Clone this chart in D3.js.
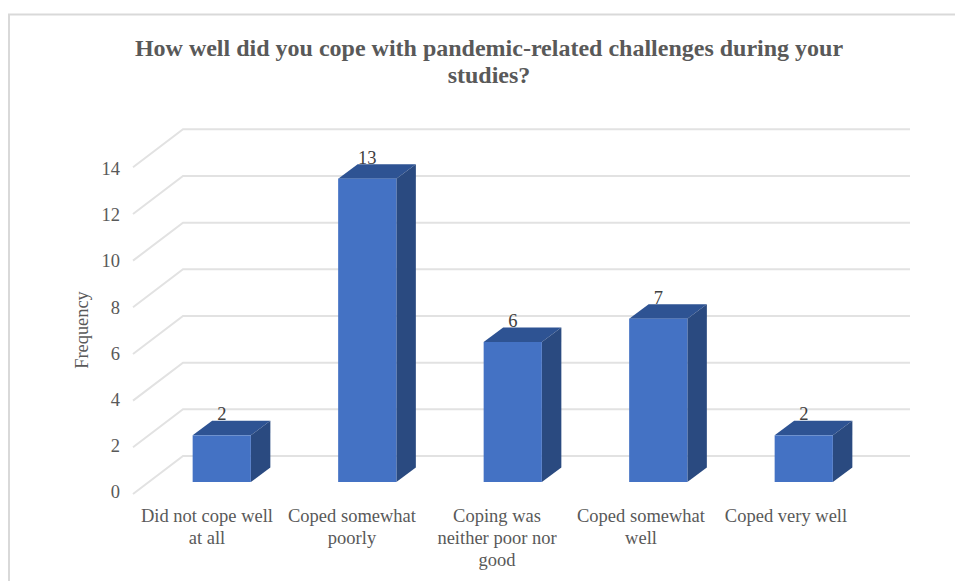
<!DOCTYPE html>
<html><head><meta charset="utf-8">
<script src="https://cdn.jsdelivr.net/npm/d3@7"></script>
<style>html,body{margin:0;padding:0;background:#fff}svg{display:block}text{font-family:"Liberation Serif",serif}</style>
</head><body><svg id="c" width="955" height="581"></svg>
<script>
const categories=[["Did not cope well","at all"],["Coped somewhat","poorly"],["Coping was","neither poor nor","good"],["Coped somewhat","well"],["Coped very well"]];
const values=[2,13,6,7,2];
const yTicks=[0,2,4,6,8,10,12,14];
const titleLines=["How well did you cope with pandemic-related challenges during your","studies?"];
const yTitle="Frequency";

const svg=d3.select("#c");
const y=d3.scaleLinear().domain([0,14]).range([482,155.3]);
const x=d3.scaleBand().domain(d3.range(values.length)).range([149,876.5]).paddingInner(0.6).paddingOuter(0.3);
const dx=19.5,dy=-14.5;
const wallFront=133,wallBack=183,right=910,backShift=-26,frontShift=12;

svg.append("path").attr("d","M9 581V14.5H955").attr("fill","none").attr("stroke","#d9d9d9").attr("stroke-width",2);

const grid=svg.append("g").attr("fill","none").attr("stroke","#e2e2e2").attr("stroke-width",2);
yTicks.forEach(t=>{
  grid.append("path").attr("d",`M${wallFront} ${y(t)+frontShift}L${wallBack} ${y(t)+backShift}H${right}`);
});

svg.append("g").attr("font-size",18.5).attr("fill","#595959").attr("text-anchor","end")
 .selectAll("text").data(yTicks).join("text")
 .attr("x",120).attr("y",t=>y(t)+frontShift+4+t*0.28).text(t=>t);

svg.append("text").attr("transform","translate(88,330) rotate(-90)").attr("text-anchor","middle")
 .attr("font-size",18.4).attr("fill","#595959").text(yTitle);

const bars=svg.append("g").selectAll("g").data(values).join("g");
bars.each(function(v,i){
  const g=d3.select(this),x0=x(i),w=x.bandwidth(),x1=x0+w,yt=y(v),yb=y(0);
  g.append("path").attr("fill","#2e5393").attr("d",`M${x0} ${yt}l${dx} ${dy}H${x1+dx}L${x1} ${yt}Z`);
  g.append("path").attr("fill","#2a4a80").attr("d",`M${x1} ${yt}l${dx} ${dy}V${yb+dy}L${x1} ${yb}Z`);
  g.append("rect").attr("x",x0).attr("y",yt).attr("width",w).attr("height",yb-yt).attr("fill","#4472c4");
  g.append("text").attr("x",x0+w/2).attr("y",yt+dy-0.5).attr("text-anchor","middle")
   .attr("font-size",18.5).attr("fill","#404040").text(v);
});

const labelCx=[207,352,497,641,786];
svg.append("g").attr("font-size",18.5).attr("fill","#595959").attr("text-anchor","middle")
 .selectAll("text").data(categories).join("text")
 .each(function(lines,i){
   d3.select(this).selectAll("tspan").data(lines).join("tspan")
    .attr("x",labelCx[i]).attr("y",(d,j)=>522+j*22).text(d=>d);
 });

svg.append("g").attr("font-size",24).attr("font-weight","bold").attr("fill","#595959").attr("text-anchor","middle")
 .selectAll("text").data(titleLines).join("text").attr("x",489).attr("y",(d,i)=>56+i*27).text(d=>d);
</script></body></html>
